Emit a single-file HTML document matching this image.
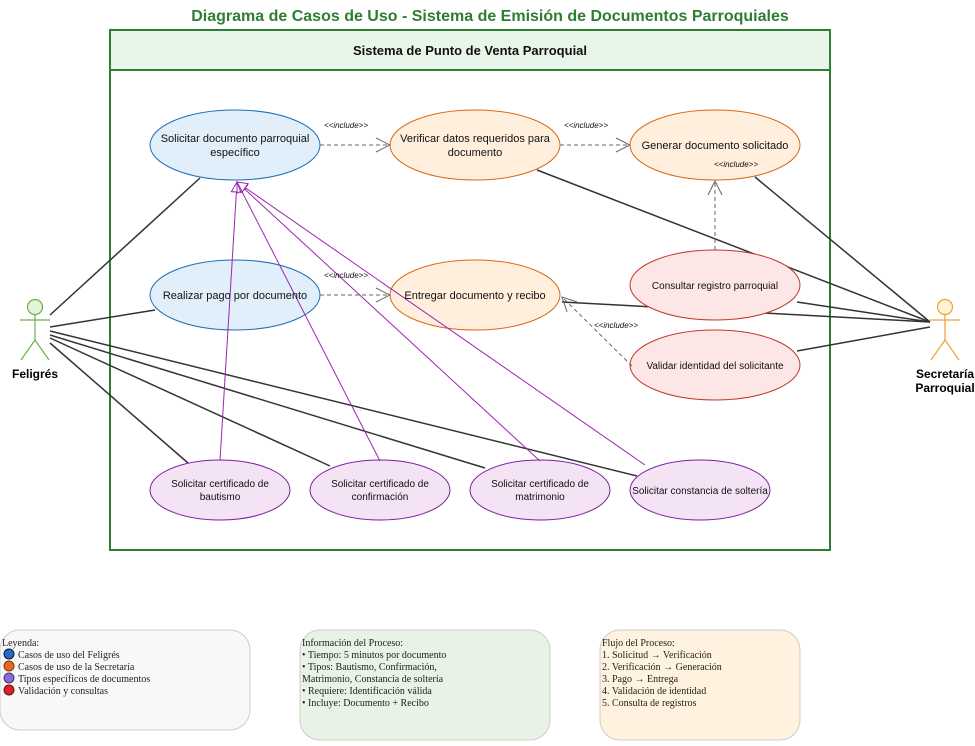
<!DOCTYPE html>
<html><head><meta charset="utf-8"><style>
body{margin:0;background:#fff;width:975px;height:741px;overflow:hidden}
svg text{font-family:"Liberation Sans",sans-serif}
.s{font-family:"Liberation Serif",serif;font-size:10px;fill:#222}
</style></head><body>
<svg width="975" height="741" xmlns="http://www.w3.org/2000/svg">
<defs>
<marker id="op" markerWidth="16" markerHeight="18" refX="15" refY="9" orient="auto" markerUnits="userSpaceOnUse"><path d="M1,2 L15,9 L1,16" fill="none" stroke="#666" stroke-width="1"/></marker>
<marker id="tri" markerWidth="12" markerHeight="12" refX="11" refY="6" orient="auto" markerUnits="userSpaceOnUse"><path d="M1,1 L11,6 L1,11 Z" fill="#fff" stroke="#9c27b0" stroke-width="1"/></marker>
</defs>
<text x="490" y="21" text-anchor="middle" font-size="16" font-weight="bold" fill="#2e7d32">Diagrama de Casos de Uso - Sistema de Emisión de Documentos Parroquiales</text>
<rect x="110" y="30" width="720" height="520" fill="#fff" stroke="#2e7d32" stroke-width="2"/>
<rect x="110" y="30" width="720" height="40" fill="#e8f5e9" stroke="#2e7d32" stroke-width="2"/>
<text x="470" y="55" text-anchor="middle" font-size="13" font-weight="bold" fill="#111">Sistema de Punto de Venta Parroquial</text>

<g stroke="#333" stroke-width="1.5">
<line x1="50" y1="315" x2="200" y2="178"/>
<line x1="50" y1="327" x2="155" y2="310"/>
<line x1="50" y1="343" x2="188" y2="463"/>
<line x1="50" y1="338" x2="330" y2="466"/>
<line x1="50" y1="335" x2="485" y2="468"/>
<line x1="50" y1="331" x2="637" y2="476"/>
<line x1="930" y1="322" x2="537" y2="170"/>
<line x1="930" y1="322" x2="755" y2="177"/>
<line x1="930" y1="322" x2="562" y2="302"/>
<line x1="930" y1="322" x2="797" y2="302"/>
<line x1="930" y1="327" x2="797" y2="351"/>
</g>

<ellipse cx="235" cy="145" rx="85" ry="35" fill="#e1effb" stroke="#1f6fb5"/>
<ellipse cx="475" cy="145" rx="85" ry="35" fill="#ffefdc" stroke="#d86a1a"/>
<ellipse cx="715" cy="145" rx="85" ry="35" fill="#ffefdc" stroke="#d86a1a"/>
<ellipse cx="235" cy="295" rx="85" ry="35" fill="#e1effb" stroke="#1f6fb5"/>
<ellipse cx="475" cy="295" rx="85" ry="35" fill="#ffefdc" stroke="#d86a1a"/>
<ellipse cx="715" cy="285" rx="85" ry="35" fill="#fde6e6" stroke="#c0392b"/>
<ellipse cx="715" cy="365" rx="85" ry="35" fill="#fde6e6" stroke="#c0392b"/>
<g fill="#f3e3f5" stroke="#7b1fa2">
<ellipse cx="220" cy="490" rx="70" ry="30"/>
<ellipse cx="380" cy="490" rx="70" ry="30"/>
<ellipse cx="540" cy="490" rx="70" ry="30"/>
<ellipse cx="700" cy="490" rx="70" ry="30"/>
</g>

<g stroke="#9c27b0" stroke-width="1" fill="none">
<line x1="220" y1="460" x2="237" y2="182" marker-end="url(#tri)"/>
<line x1="380" y1="461" x2="237" y2="182" marker-end="url(#tri)"/>
<line x1="540" y1="461" x2="237" y2="182" marker-end="url(#tri)"/>
<line x1="645" y1="465" x2="237" y2="182" marker-end="url(#tri)"/>
</g>

<g stroke="#666" stroke-width="1" stroke-dasharray="4,3" fill="none">
<line x1="320" y1="145" x2="390" y2="145" marker-end="url(#op)"/>
<line x1="560" y1="145" x2="630" y2="145" marker-end="url(#op)"/>
<line x1="320" y1="295" x2="390" y2="295" marker-end="url(#op)"/>
<line x1="715" y1="250" x2="715" y2="181" marker-end="url(#op)"/>
<line x1="632" y1="366" x2="562" y2="297" marker-end="url(#op)"/>
</g>
<g font-size="8" font-style="italic" fill="#111">
<text x="346" y="128" text-anchor="middle">&lt;&lt;include&gt;&gt;</text>
<text x="586" y="128" text-anchor="middle">&lt;&lt;include&gt;&gt;</text>
<text x="736" y="167" text-anchor="middle">&lt;&lt;include&gt;&gt;</text>
<text x="346" y="278" text-anchor="middle">&lt;&lt;include&gt;&gt;</text>
<text x="616" y="328" text-anchor="middle">&lt;&lt;include&gt;&gt;</text>
</g>

<g font-size="11" fill="#111" text-anchor="middle">
<text x="235" y="142">Solicitar documento parroquial</text>
<text x="235" y="156">específico</text>
<text x="475" y="142">Verificar datos requeridos para</text>
<text x="475" y="156">documento</text>
<text x="715" y="149">Generar documento solicitado</text>
<text x="235" y="299">Realizar pago por documento</text>
<text x="475" y="299">Entregar documento y recibo</text>
</g>
<g font-size="10" fill="#111" text-anchor="middle">
<text x="715" y="289">Consultar registro parroquial</text>
<text x="715" y="369">Validar identidad del solicitante</text>
<text x="220" y="487">Solicitar certificado de</text>
<text x="220" y="500">bautismo</text>
<text x="380" y="487">Solicitar certificado de</text>
<text x="380" y="500">confirmación</text>
<text x="540" y="487">Solicitar certificado de</text>
<text x="540" y="500">matrimonio</text>
<text x="700" y="494">Solicitar constancia de soltería</text>
</g>

<g stroke="#6ab04c" fill="none" stroke-width="1.2">
<circle cx="35" cy="307" r="7.5" fill="#e3f4dc"/>
<line x1="35" y1="315" x2="35" y2="340"/>
<line x1="20" y1="320" x2="50" y2="320"/>
<line x1="35" y1="340" x2="21" y2="360"/>
<line x1="35" y1="340" x2="49" y2="360"/>
</g>
<text x="35" y="378" text-anchor="middle" font-size="12" font-weight="bold">Feligrés</text>
<g stroke="#f0a030" fill="none" stroke-width="1.2">
<circle cx="945" cy="307" r="7.5" fill="#fff2d8"/>
<line x1="945" y1="315" x2="945" y2="340"/>
<line x1="930" y1="320" x2="960" y2="320"/>
<line x1="945" y1="340" x2="931" y2="360"/>
<line x1="945" y1="340" x2="959" y2="360"/>
</g>
<text x="945" y="378" text-anchor="middle" font-size="12" font-weight="bold">Secretaría</text>
<text x="945" y="392" text-anchor="middle" font-size="12" font-weight="bold">Parroquial</text>

<rect x="0" y="630" width="250" height="100" rx="20" fill="#f8f8f8" stroke="#ccc"/>
<text class="s" x="2" y="646">Leyenda:</text>
<circle cx="9" cy="654" r="5" fill="#1f6fc5" stroke="#114"/><text class="s" x="18" y="658">Casos de uso del Feligrés</text>
<circle cx="9" cy="666" r="5" fill="#e86a1a" stroke="#831"/><text class="s" x="18" y="670">Casos de uso de la Secretaría</text>
<circle cx="9" cy="678" r="5" fill="#8a6ae0" stroke="#436"/><text class="s" x="18" y="682">Tipos específicos de documentos</text>
<circle cx="9" cy="690" r="5" fill="#e0202a" stroke="#611"/><text class="s" x="18" y="694">Validación y consultas</text>

<rect x="300" y="630" width="250" height="110" rx="20" fill="#e8f3e6" stroke="#ccc"/>
<text class="s" x="302" y="646">Información del Proceso:</text>
<text class="s" x="302" y="658">• Tiempo: 5 minutos por documento</text>
<text class="s" x="302" y="670">• Tipos: Bautismo, Confirmación,</text>
<text class="s" x="302" y="682">Matrimonio, Constancia de soltería</text>
<text class="s" x="302" y="694">• Requiere: Identificación válida</text>
<text class="s" x="302" y="706">• Incluye: Documento + Recibo</text>

<rect x="600" y="630" width="200" height="110" rx="20" fill="#fff2de" stroke="#ccc"/>
<text class="s" x="602" y="646">Flujo del Proceso:</text>
<text class="s" x="602" y="658">1. Solicitud → Verificación</text>
<text class="s" x="602" y="670">2. Verificación → Generación</text>
<text class="s" x="602" y="682">3. Pago → Entrega</text>
<text class="s" x="602" y="694">4. Validación de identidad</text>
<text class="s" x="602" y="706">5. Consulta de registros</text>
</svg>
</body></html>
